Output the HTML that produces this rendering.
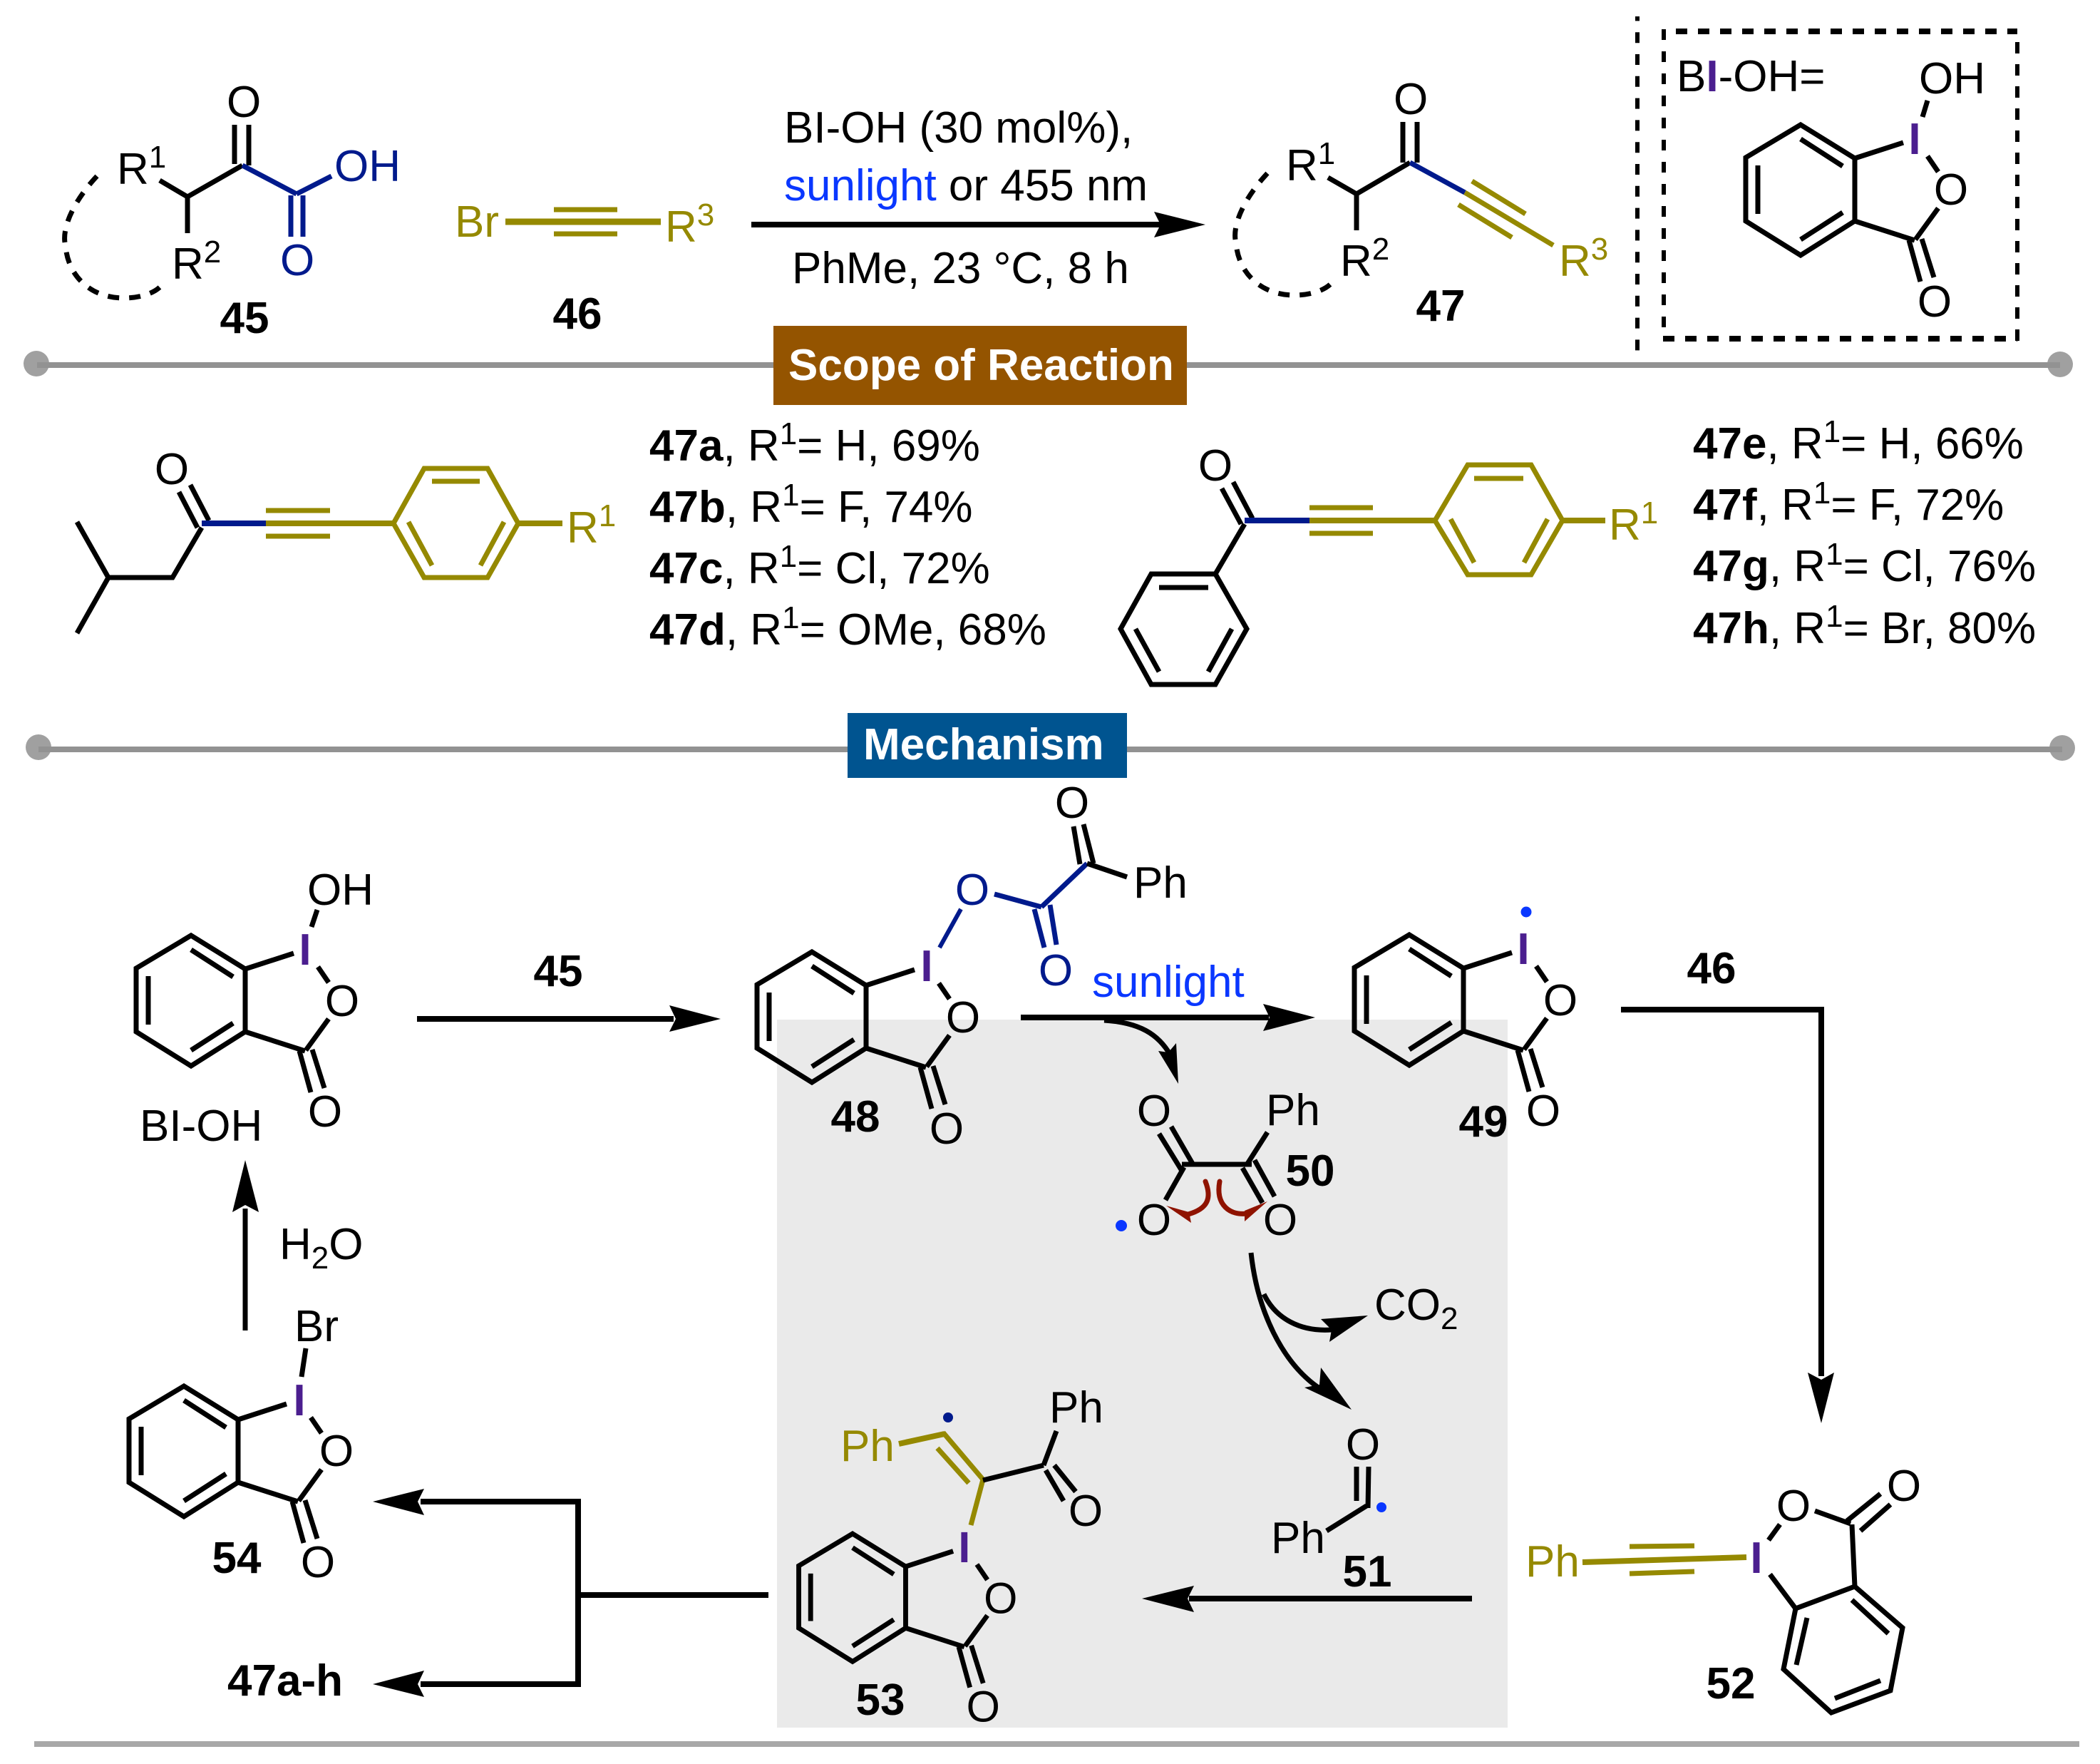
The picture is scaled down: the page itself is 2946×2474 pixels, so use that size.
<!DOCTYPE html>
<html><head><meta charset="utf-8"><style>
html,body{margin:0;padding:0;background:#fff;width:2946px;height:2474px;overflow:hidden}
svg{display:block}
text{font-family:"Liberation Sans",sans-serif;font-size:62px;fill:#000}
.b{font-weight:bold}
.ol{fill:#958900}.nv{fill:#001a8c}.bl{fill:#0a37ff}
.i{fill:#4b1e8f;font-weight:bold;text-anchor:middle}
.m{text-anchor:middle}
.k line,.k path,.k polyline,.k polygon{stroke:#000;stroke-width:7;fill:none;stroke-linejoin:miter}
.o line,.o polyline,.o polygon{stroke:#958900;stroke-width:7;fill:none}
.n line{stroke:#001a8c;stroke-width:7}
</style></head><body>
<svg width="2946" height="2474" viewBox="0 0 2946 2474" xmlns="http://www.w3.org/2000/svg">
<defs>
<g id="ring" class="k">
<polygon points="0,0 76,47 76,135 0,183 -77,135 -77,46"/>
<line x1="0" y1="20" x2="59" y2="58"/><line x1="-60" y1="57" x2="-60" y2="125"/><line x1="0" y1="161" x2="59" y2="123"/>
<line x1="76" y1="47" x2="144" y2="25"/><line x1="178" y1="44" x2="193" y2="66"/><line x1="193" y1="117" x2="161" y2="161"/>
<line x1="76" y1="135" x2="160" y2="162"/><line x1="152" y1="162" x2="168" y2="220"/><line x1="170" y1="160" x2="187" y2="214"/>
</g>
</defs>
<rect x="1090" y="1430" width="1025" height="993" fill="#eaeaea"/>

<!-- separators -->
<g fill="#a0a0a0"><circle cx="51" cy="510" r="18"/><circle cx="2890" cy="511" r="18"/><circle cx="54" cy="1048" r="18"/><circle cx="2893" cy="1049" r="18"/></g>
<rect x="52" y="508" width="2838" height="8" fill="#929292"/>
<rect x="54" y="1047" width="2839" height="8" fill="#929292"/>
<rect x="48" y="2442" width="2869" height="8" fill="#a8a8a8"/>
<rect x="1085" y="457" width="580" height="111" fill="#945400"/>
<text class="b" x="1106" y="533" style="fill:#fff">Scope of Reaction</text>
<rect x="1189" y="1000" width="392" height="91" fill="#005490"/>
<text class="b" x="1211" y="1065" style="fill:#fff">Mechanism</text>

<!-- 45 -->
<g class="k">
<path d="M136 247 C105 280 85 320 92 345 C95 385 125 418 174 418 C195 418 215 412 225 402" stroke-dasharray="16 14"/>
<polyline points="224,253 263,276 340,232"/><line x1="263" y1="276" x2="263" y2="327"/>
<line x1="329" y1="175" x2="329" y2="230"/><line x1="349" y1="175" x2="349" y2="232"/>
</g>
<g class="n"><line x1="340" y1="232" x2="416" y2="272"/><line x1="416" y1="272" x2="465" y2="247"/><line x1="408" y1="274" x2="408" y2="332"/><line x1="425" y1="274" x2="425" y2="332"/></g>
<text x="318" y="164">O</text>
<text class="nv" x="469" y="254">OH</text>
<text class="nv" x="393" y="386">O</text>
<text x="164" y="258">R<tspan font-size="44" dy="-23">1</tspan></text>
<text x="241" y="391">R<tspan font-size="44" dy="-23">2</tspan></text>
<text class="b m" x="343" y="467">45</text>

<!-- 46 -->
<text class="ol" x="638" y="332">Br</text>
<g class="o"><line x1="709" y1="311" x2="927" y2="311" style="stroke-width:9"/><line x1="777" y1="294" x2="866" y2="294"/><line x1="777" y1="328" x2="866" y2="328"/></g>
<text class="ol" x="933" y="339">R<tspan font-size="44" dy="-23">3</tspan></text>
<text class="b m" x="810" y="461">46</text>

<!-- reaction arrow -->
<line x1="1054" y1="315" x2="1630" y2="315" stroke="#000" stroke-width="8"/>
<polygon points="1691,315 1619,297 1628,315 1619,333"/>
<text x="1100" y="200">BI-OH (30 mol%),</text>
<text x="1100" y="281"><tspan class="bl">sunlight</tspan> or 455 nm</text>
<text x="1111" y="397">PhMe, 23 °C, 8 h</text>

<!-- 47 -->
<g class="k">
<path d="M1778 243 C1747 276 1727 316 1734 341 C1737 381 1767 414 1816 414 C1837 414 1857 408 1867 398" stroke-dasharray="16 14"/>
<polyline points="1863,249 1903,272 1978,228"/><line x1="1903" y1="272" x2="1903" y2="323"/>
<line x1="1968" y1="171" x2="1968" y2="228"/><line x1="1988" y1="171" x2="1988" y2="228"/>
</g>
<g class="n"><line x1="1978" y1="228" x2="2055" y2="270"/></g>
<g class="o"><line x1="2055" y1="270" x2="2179" y2="344"/><line x1="2065" y1="254" x2="2140" y2="300"/><line x1="2046" y1="287" x2="2121" y2="333"/></g>
<text x="1955" y="160">O</text>
<text x="1804" y="253">R<tspan font-size="44" dy="-23">1</tspan></text>
<text x="1880" y="387">R<tspan font-size="44" dy="-23">2</tspan></text>
<text class="ol" x="2187" y="387">R<tspan font-size="44" dy="-23">3</tspan></text>
<text class="b m" x="2021" y="450">47</text>

<!-- BI-OH box -->
<g stroke="#000" fill="none">
<line x1="2297" y1="23" x2="2297" y2="492" stroke-width="6" stroke-dasharray="15 15.8" stroke-dashoffset="8.6"/>
<line x1="2334" y1="41" x2="2334" y2="459" stroke-width="6" stroke-dasharray="15 16"/>
<line x1="2830" y1="59" x2="2830" y2="478" stroke-width="6" stroke-dasharray="16 15"/>
<line x1="2351" y1="44" x2="2830" y2="44" stroke-width="8" stroke-dasharray="16 15"/>
<line x1="2333" y1="475" x2="2830" y2="475" stroke-width="8" stroke-dasharray="16 15"/>
</g>
<text x="2352" y="128">B<tspan fill="#4b1e8f" font-weight="bold">I</tspan>-OH=</text>
<g transform="translate(2526,175)"><use href="#ring"/><text class="i" x="160" y="41">I</text><text class="m" x="211" y="112">O</text><text class="m" x="188" y="269">O</text></g>
<line x1="2704" y1="141" x2="2697" y2="164" stroke="#000" stroke-width="7"/>
<text x="2692" y="131">OH</text>

<!-- 47a-d molecule -->
<g class="k"><polyline points="108,732 152,810 242,810 283,740"/><line x1="152" y1="810" x2="108" y2="888"/><line x1="267" y1="680" x2="293" y2="730"/><line x1="251" y1="690" x2="277" y2="740"/></g>
<text class="m" x="241" y="679">O</text>
<line x1="283" y1="734" x2="373" y2="734" stroke="#001a8c" stroke-width="8"/>
<g class="o"><line x1="373" y1="734" x2="552" y2="734" style="stroke-width:8"/><line x1="373" y1="716" x2="463" y2="716"/><line x1="373" y1="752" x2="463" y2="752"/>
<polygon points="552,734 595,657 684,657 727,734 684,810 595,810"/><line x1="606" y1="675" x2="673" y2="675"/><line x1="573" y1="732" x2="606" y2="793"/><line x1="707" y1="732" x2="674" y2="793"/><line x1="727" y1="734" x2="789" y2="734" style="stroke-width:8"/></g>
<text class="ol" x="795" y="761">R<tspan font-size="44" dy="-23">1</tspan></text>
<text x="911" y="646"><tspan font-weight="bold">47a</tspan>, R<tspan font-size="44" dy="-23">1</tspan><tspan dy="23">= H, 69%</tspan></text>
<text x="911" y="732"><tspan font-weight="bold">47b</tspan>, R<tspan font-size="44" dy="-23">1</tspan><tspan dy="23">= F, 74%</tspan></text>
<text x="911" y="818"><tspan font-weight="bold">47c</tspan>, R<tspan font-size="44" dy="-23">1</tspan><tspan dy="23">= Cl, 72%</tspan></text>
<text x="911" y="904"><tspan font-weight="bold">47d</tspan>, R<tspan font-size="44" dy="-23">1</tspan><tspan dy="23">= OMe, 68%</tspan></text>

<!-- 47e-h molecule -->
<g class="k"><line x1="1714" y1="685" x2="1741" y2="735"/><line x1="1730" y1="676" x2="1757" y2="727"/><line x1="1746" y1="735" x2="1705" y2="805"/>
<polygon points="1705,805 1615,805 1572,882 1615,960 1705,960 1749,882"/><line x1="1626" y1="824" x2="1695" y2="824"/><line x1="1593" y1="882" x2="1626" y2="942"/><line x1="1728" y1="882" x2="1695" y2="942"/></g>
<text class="m" x="1705" y="674">O</text>
<line x1="1746" y1="730" x2="1837" y2="730" stroke="#001a8c" stroke-width="8"/>
<g class="o"><line x1="1837" y1="730" x2="2015" y2="730" style="stroke-width:8"/><line x1="1837" y1="712" x2="1926" y2="712"/><line x1="1837" y1="748" x2="1926" y2="748"/>
<polygon points="2013,730 2059,652 2148,652 2192,730 2148,806 2059,806"/><line x1="2068" y1="671" x2="2137" y2="671"/><line x1="2035" y1="728" x2="2068" y2="789"/><line x1="2171" y1="728" x2="2138" y2="789"/><line x1="2192" y1="730" x2="2252" y2="730" style="stroke-width:8"/></g>
<text class="ol" x="2257" y="757">R<tspan font-size="44" dy="-23">1</tspan></text>
<text x="2375" y="643"><tspan font-weight="bold">47e</tspan>, R<tspan font-size="44" dy="-23">1</tspan><tspan dy="23">= H, 66%</tspan></text>
<text x="2375" y="729"><tspan font-weight="bold">47f</tspan>, R<tspan font-size="44" dy="-23">1</tspan><tspan dy="23">= F, 72%</tspan></text>
<text x="2375" y="815"><tspan font-weight="bold">47g</tspan>, R<tspan font-size="44" dy="-23">1</tspan><tspan dy="23">= Cl, 76%</tspan></text>
<text x="2375" y="902"><tspan font-weight="bold">47h</tspan>, R<tspan font-size="44" dy="-23">1</tspan><tspan dy="23">= Br, 80%</tspan></text>

<!-- BI-OH mech -->
<g transform="translate(268,1312)"><use href="#ring"/><text class="i" x="160" y="41">I</text><text class="m" x="212" y="113">O</text><text class="m" x="188" y="268">O</text></g>
<line x1="445" y1="1276" x2="437" y2="1300" stroke="#000" stroke-width="7"/>
<text x="431" y="1269">OH</text>
<text x="196" y="1600">BI-OH</text>

<!-- arrow 45 -->
<line x1="585" y1="1429" x2="945" y2="1429" stroke="#000" stroke-width="8"/>
<polygon points="1011,1429 939,1410 948,1429 939,1447"/>
<text class="b m" x="783" y="1383">45</text>

<!-- 48 -->
<g transform="translate(1139,1335)"><use href="#ring"/><text class="i" x="161" y="41">I</text><text class="m" x="212" y="113">O</text><text class="m" x="189" y="269">O</text></g>
<g class="n"><line x1="1318" y1="1329" x2="1348" y2="1275" style="stroke-width:6"/><line x1="1395" y1="1254" x2="1461" y2="1272"/><line x1="1451" y1="1275" x2="1465" y2="1329"/><line x1="1473" y1="1269" x2="1482" y2="1325"/><line x1="1461" y1="1272" x2="1525" y2="1211"/></g>
<g class="k"><line x1="1515" y1="1212" x2="1506" y2="1159"/><line x1="1534" y1="1211" x2="1520" y2="1156"/><line x1="1525" y1="1211" x2="1581" y2="1230"/></g>
<text class="nv m" x="1364" y="1269">O</text>
<text class="nv m" x="1481" y="1382">O</text>
<text class="m" x="1504" y="1147">O</text>
<text x="1590" y="1259">Ph</text>
<text class="b m" x="1200" y="1587">48</text>

<!-- sunlight arrow -->
<line x1="1432" y1="1427" x2="1780" y2="1427" stroke="#000" stroke-width="8"/>
<polygon points="1845,1427 1772,1408 1781,1427 1772,1446"/>
<text class="bl" x="1532" y="1398">sunlight</text>
<path d="M1549 1431 C1598 1434 1625 1450 1642 1480" fill="none" stroke="#000" stroke-width="7"/>
<polygon points="1653,1520 1625,1474 1639,1476 1650,1463"/>

<!-- 49 -->
<g transform="translate(1977,1311)"><use href="#ring"/><text class="i" x="160" y="41">I</text><text class="m" x="212" y="113">O</text><text class="m" x="188" y="268">O</text></g>
<circle cx="2141" cy="1279" r="7.5" fill="#0a37ff"/>
<text class="b m" x="2081" y="1594">49</text>

<!-- arrow 46 -->
<path d="M2274 1416 H2555 V1930" fill="none" stroke="#000" stroke-width="8"/>
<polygon points="2555,1996 2536,1925 2555,1935 2573,1925"/>
<text class="b m" x="2401" y="1379">46</text>

<!-- 50 -->
<g class="k"><line x1="1626" y1="1590" x2="1658" y2="1642"/><line x1="1643" y1="1580" x2="1673" y2="1632"/><line x1="1658" y1="1633" x2="1756" y2="1633"/><line x1="1750" y1="1632" x2="1778" y2="1588"/><line x1="1743" y1="1638" x2="1771" y2="1687"/><line x1="1760" y1="1627" x2="1788" y2="1678"/><line x1="1661" y1="1637" x2="1635" y2="1683"/></g>
<text class="m" x="1619" y="1579">O</text>
<text class="m" x="1619" y="1732">O</text>
<text class="m" x="1796" y="1732">O</text>
<text x="1776" y="1578">Ph</text>
<text class="b m" x="1838" y="1663">50</text>
<circle cx="1573" cy="1719" r="8" fill="#0a37ff"/>
<path d="M1691 1657 C1700 1680 1695 1695 1667 1703" fill="none" stroke="#8f1300" stroke-width="7" stroke-linecap="round"/>
<polygon points="1636,1691 1668,1700 1671,1715" fill="#8f1300"/>
<path d="M1711 1657 C1705 1690 1725 1705 1750 1702" fill="none" stroke="#8f1300" stroke-width="7" stroke-linecap="round"/>
<polygon points="1778,1685 1746,1698 1746,1713" fill="#8f1300"/>

<!-- CO2 arrows -->
<path d="M1755 1757 C1764 1840 1799 1910 1848 1945" fill="none" stroke="#000" stroke-width="7"/>
<polygon points="1896,1977 1853,1918 1851,1942 1830,1946"/>
<path d="M1773 1815 C1790 1850 1825 1868 1868 1865" fill="none" stroke="#000" stroke-width="7"/>
<polygon points="1919,1845 1853,1850 1868,1865 1865,1882"/>
<text x="1928" y="1851">CO<tspan font-size="44" dy="13">2</tspan></text>

<!-- 51 -->
<g class="k"><line x1="1903" y1="2057" x2="1903" y2="2105"/><line x1="1920" y1="2057" x2="1919" y2="2115"/><line x1="1917" y1="2112" x2="1861" y2="2147"/></g>
<text class="m" x="1912" y="2047">O</text>
<circle cx="1938" cy="2114" r="7" fill="#0a37ff"/>
<text x="1783" y="2178">Ph</text>
<text class="b m" x="1918" y="2225">51</text>

<!-- arrow to 53 -->
<line x1="2065" y1="2242" x2="1668" y2="2242" stroke="#000" stroke-width="8"/>
<polygon points="1602,2242 1675,2224 1666,2242 1675,2261"/>

<!-- 52 -->
<text class="ol" x="2140" y="2211">Ph</text>
<g class="o"><line x1="2220" y1="2191" x2="2450" y2="2184" style="stroke-width:8"/><line x1="2286" y1="2169" x2="2377" y2="2168"/><line x1="2286" y1="2207" x2="2377" y2="2204"/></g>
<text class="i" x="2464" y="2206">I</text>
<g class="k"><line x1="2481" y1="2160" x2="2497" y2="2138"/><line x1="2546" y1="2119" x2="2596" y2="2137"/><line x1="2591" y1="2133" x2="2638" y2="2095"/><line x1="2610" y1="2147" x2="2652" y2="2110"/><line x1="2598" y1="2138" x2="2602" y2="2225"/><line x1="2483" y1="2208" x2="2519" y2="2256"/>
<polygon points="2602,2225 2519,2256 2502,2341 2569,2402 2652,2371 2669,2283"/><line x1="2598" y1="2244" x2="2649" y2="2291"/><line x1="2535" y1="2269" x2="2520" y2="2335"/><line x1="2574" y1="2382" x2="2638" y2="2357"/></g>
<text class="m" x="2516" y="2133">O</text>
<text class="m" x="2671" y="2105">O</text>
<text class="b m" x="2428" y="2382">52</text>

<!-- 53 -->
<g transform="translate(1196,2151) scale(.98)"><use href="#ring"/><text class="i" x="160" y="41">I</text><text class="m" x="212" y="114">O</text><text class="m" x="187" y="269">O</text></g>
<text class="ol" x="1179" y="2049">Ph</text>
<g class="o"><line x1="1261" y1="2025" x2="1325" y2="2011" style="stroke-width:8"/><line x1="1323" y1="2009" x2="1379" y2="2075"/><line x1="1315" y1="2031" x2="1359" y2="2080"/><line x1="1379" y1="2075" x2="1362" y2="2139"/></g>
<circle cx="1330" cy="1988" r="7" fill="#001a8c"/>
<g class="k"><line x1="1379" y1="2076" x2="1464" y2="2055"/><line x1="1464" y1="2055" x2="1482" y2="2007"/><line x1="1467" y1="2062" x2="1492" y2="2105"/><line x1="1479" y1="2055" x2="1509" y2="2092"/></g>
<text x="1472" y="1995">Ph</text>
<text class="m" x="1523" y="2140">O</text>
<text class="b m" x="1235" y="2405">53</text>

<!-- branch arrows -->
<path d="M590 2106 H811 V2362 H590" fill="none" stroke="#000" stroke-width="8"/>
<line x1="811" y1="2237" x2="1078" y2="2237" stroke="#000" stroke-width="8"/>
<polygon points="523,2106 595,2088 586,2106 595,2125"/>
<polygon points="523,2362 595,2343 586,2362 595,2380"/>
<text class="b" x="319" y="2378">47a-h</text>

<!-- 54 -->
<g transform="translate(258,1944)"><use href="#ring"/><text class="i" x="162" y="41">I</text><text class="m" x="214" y="112">O</text><text class="m" x="188" y="268">O</text></g>
<line x1="429" y1="1891" x2="423" y2="1931" stroke="#000" stroke-width="7"/>
<text x="413" y="1881">Br</text>
<text class="b m" x="332" y="2206">54</text>

<!-- up arrow -->
<line x1="344" y1="1866" x2="344" y2="1695" stroke="#000" stroke-width="7"/>
<polygon points="344,1627 326,1700 344,1690 363,1700"/>
<text x="392" y="1766">H<tspan font-size="44" dy="13">2</tspan><tspan dy="-13">O</tspan></text>
</svg>
</body></html>
